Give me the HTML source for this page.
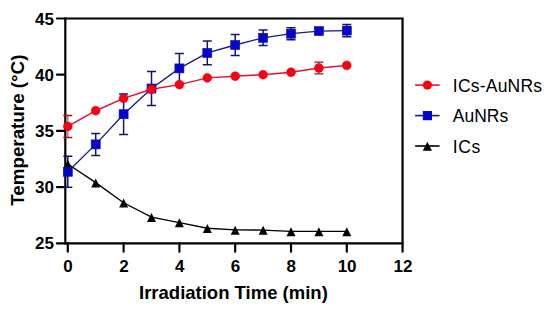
<!DOCTYPE html><html><head><meta charset="utf-8"><style>html,body{margin:0;padding:0;background:#fff;}svg{display:block;}text{font-family:"Liberation Sans",sans-serif;}</style></head><body>
<svg width="550" height="312" viewBox="0 0 550 312">
<rect width="550" height="312" fill="#fff"/>
<g stroke="#000" stroke-width="2.2" fill="none" stroke-linecap="butt">
<path d="M57 18.5 H402.55 V251.7" stroke-linecap="round" stroke-linejoin="miter"/>
<path d="M65.3 17.4 V244.5"/>
<path d="M57 243.4 H402.55" stroke-linecap="round"/>
<path d="M57 74.72 H65" stroke-linecap="round"/>
<path d="M57 130.95 H65" stroke-linecap="round"/>
<path d="M57 187.17 H65" stroke-linecap="round"/>
<path d="M67.80 243.4 V251.7" stroke-linecap="round"/>
<path d="M123.60 243.4 V251.7" stroke-linecap="round"/>
<path d="M179.40 243.4 V251.7" stroke-linecap="round"/>
<path d="M235.20 243.4 V251.7" stroke-linecap="round"/>
<path d="M291.00 243.4 V251.7" stroke-linecap="round"/>
<path d="M346.80 243.4 V251.7" stroke-linecap="round"/>
</g>
<g font-weight="bold" font-size="17" fill="#000">
<text x="54" y="24.50" text-anchor="end">45</text>
<text x="54" y="80.72" text-anchor="end">40</text>
<text x="54" y="136.95" text-anchor="end">35</text>
<text x="54" y="193.17" text-anchor="end">30</text>
<text x="54" y="249.40" text-anchor="end">25</text>
<text x="68.10" y="271.6" text-anchor="middle">0</text>
<text x="123.90" y="271.6" text-anchor="middle">2</text>
<text x="179.70" y="271.6" text-anchor="middle">4</text>
<text x="235.50" y="271.6" text-anchor="middle">6</text>
<text x="291.30" y="271.6" text-anchor="middle">8</text>
<text x="347.10" y="271.6" text-anchor="middle">10</text>
<text x="402.90" y="271.6" text-anchor="middle">12</text>
</g>
<text x="233.4" y="298.8" text-anchor="middle" font-weight="bold" font-size="18.5">Irradiation Time (min)</text>
<text transform="translate(23.8,130.2) rotate(-90)" text-anchor="middle" font-weight="bold" font-size="18.8">Temperature (°C)</text>
<g stroke="#141470" stroke-width="1.5" fill="none">
<path d="M67.80 156.30 V187.30 M63.30 156.30 H72.30 M63.30 187.30 H72.30"/>
<path d="M95.70 133.40 V155.40 M91.20 133.40 H100.20 M91.20 155.40 H100.20"/>
<path d="M123.60 94.00 V134.40 M119.10 94.00 H128.10 M119.10 134.40 H128.10"/>
<path d="M151.50 71.50 V105.50 M147.00 71.50 H156.00 M147.00 105.50 H156.00"/>
<path d="M179.40 53.60 V83.20 M174.90 53.60 H183.90 M174.90 83.20 H183.90"/>
<path d="M207.30 41.00 V64.80 M202.80 41.00 H211.80 M202.80 64.80 H211.80"/>
<path d="M235.20 34.50 V55.50 M230.70 34.50 H239.70 M230.70 55.50 H239.70"/>
<path d="M263.10 30.10 V45.50 M258.60 30.10 H267.60 M258.60 45.50 H267.60"/>
<path d="M291.00 27.70 V39.70 M286.50 27.70 H295.50 M286.50 39.70 H295.50"/>
<path d="M318.90 28.10 V34.10 M314.40 28.10 H323.40 M314.40 34.10 H323.40"/>
<path d="M346.80 24.40 V36.80 M342.30 24.40 H351.30 M342.30 36.80 H351.30"/>
</g>
<path d="M67.80 115.43 V137.47" stroke="#c07a7a" stroke-width="1.5"/>
<path d="M63.30 115.43 H72.30 M63.30 137.47 H72.30" stroke="#a8101e" stroke-width="1.4"/>
<path d="M318.90 62.13 V73.83" stroke="#c07a7a" stroke-width="1.5"/>
<path d="M314.40 62.13 H323.40 M314.40 73.83 H323.40" stroke="#a8101e" stroke-width="1.4"/>
<polyline points="67.80,164.00 95.70,182.65 123.60,202.75 151.50,217.20 179.40,222.55 207.30,228.25 235.20,229.90 263.10,230.10 291.00,231.40 318.90,231.40 346.80,231.40" fill="none" stroke="#000000" stroke-width="1.35"/>
<polyline points="67.80,171.80 95.70,144.40 123.60,114.20 151.50,88.50 179.40,68.40 207.30,52.90 235.20,45.00 263.10,37.80 291.00,33.70 318.90,31.10 346.80,30.60" fill="none" stroke="#141c8c" stroke-width="1.35"/>
<polyline points="67.80,126.45 95.70,110.71 123.60,98.34 151.50,89.34 179.40,84.62 207.30,77.87 235.20,76.19 263.10,74.72 291.00,72.25 318.90,67.98 346.80,65.39" fill="none" stroke="#e8102e" stroke-width="1.5"/>
<path d="M67.80 159.77 L72.30 168.77 L63.30 168.77 Z" fill="#000"/>
<path d="M95.70 178.42 L100.20 187.42 L91.20 187.42 Z" fill="#000"/>
<path d="M123.60 198.52 L128.10 207.52 L119.10 207.52 Z" fill="#000"/>
<path d="M151.50 212.97 L156.00 221.97 L147.00 221.97 Z" fill="#000"/>
<path d="M179.40 218.32 L183.90 227.32 L174.90 227.32 Z" fill="#000"/>
<path d="M207.30 224.02 L211.80 233.02 L202.80 233.02 Z" fill="#000"/>
<path d="M235.20 225.67 L239.70 234.67 L230.70 234.67 Z" fill="#000"/>
<path d="M263.10 225.87 L267.60 234.87 L258.60 234.87 Z" fill="#000"/>
<path d="M291.00 227.17 L295.50 236.17 L286.50 236.17 Z" fill="#000"/>
<path d="M318.90 227.17 L323.40 236.17 L314.40 236.17 Z" fill="#000"/>
<path d="M346.80 227.17 L351.30 236.17 L342.30 236.17 Z" fill="#000"/>
<rect x="63.30" y="167.30" width="9" height="9" fill="#0505cc" stroke="#10109a" stroke-width="0.6"/>
<rect x="91.20" y="139.90" width="9" height="9" fill="#0505cc" stroke="#10109a" stroke-width="0.6"/>
<rect x="119.10" y="109.70" width="9" height="9" fill="#0505cc" stroke="#10109a" stroke-width="0.6"/>
<rect x="147.00" y="84.00" width="9" height="9" fill="#0505cc" stroke="#10109a" stroke-width="0.6"/>
<rect x="174.90" y="63.90" width="9" height="9" fill="#0505cc" stroke="#10109a" stroke-width="0.6"/>
<rect x="202.80" y="48.40" width="9" height="9" fill="#0505cc" stroke="#10109a" stroke-width="0.6"/>
<rect x="230.70" y="40.50" width="9" height="9" fill="#0505cc" stroke="#10109a" stroke-width="0.6"/>
<rect x="258.60" y="33.30" width="9" height="9" fill="#0505cc" stroke="#10109a" stroke-width="0.6"/>
<rect x="286.50" y="29.20" width="9" height="9" fill="#0505cc" stroke="#10109a" stroke-width="0.6"/>
<rect x="314.40" y="26.60" width="9" height="9" fill="#0505cc" stroke="#10109a" stroke-width="0.6"/>
<rect x="342.30" y="26.10" width="9" height="9" fill="#0505cc" stroke="#10109a" stroke-width="0.6"/>
<circle cx="67.80" cy="126.45" r="4.45" fill="#fa0010" stroke="#d8001a" stroke-width="0.5"/>
<circle cx="95.70" cy="110.71" r="4.45" fill="#fa0010" stroke="#d8001a" stroke-width="0.5"/>
<circle cx="123.60" cy="98.34" r="4.45" fill="#fa0010" stroke="#d8001a" stroke-width="0.5"/>
<circle cx="151.50" cy="89.34" r="4.45" fill="#fa0010" stroke="#d8001a" stroke-width="0.5"/>
<circle cx="179.40" cy="84.62" r="4.45" fill="#fa0010" stroke="#d8001a" stroke-width="0.5"/>
<circle cx="207.30" cy="77.87" r="4.45" fill="#fa0010" stroke="#d8001a" stroke-width="0.5"/>
<circle cx="235.20" cy="76.19" r="4.45" fill="#fa0010" stroke="#d8001a" stroke-width="0.5"/>
<circle cx="263.10" cy="74.72" r="4.45" fill="#fa0010" stroke="#d8001a" stroke-width="0.5"/>
<circle cx="291.00" cy="72.25" r="4.45" fill="#fa0010" stroke="#d8001a" stroke-width="0.5"/>
<circle cx="318.90" cy="67.98" r="4.45" fill="#fa0010" stroke="#d8001a" stroke-width="0.5"/>
<circle cx="346.80" cy="65.39" r="4.45" fill="#fa0010" stroke="#d8001a" stroke-width="0.5"/>
<path d="M415.1 85.1 H439.6" stroke="#e8102e" stroke-width="1.6"/>
<circle cx="427.4" cy="85.1" r="4.6" fill="#fa0010"/>
<path d="M415.1 115.6 H439.6" stroke="#141c8c" stroke-width="1.6"/>
<rect x="422.79999999999995" y="111.0" width="9.2" height="9.2" fill="#0505cc"/>
<path d="M415.1 146.0 H439.6" stroke="#000000" stroke-width="1.6"/>
<path d="M427.40 141.72 L432.00 150.82 L422.80 150.82 Z" fill="#000"/>
<g font-size="17.5" fill="#000">
<text x="452.8" y="91.8" letter-spacing="0.22">ICs-AuNRs</text>
<text x="452.8" y="122.2" letter-spacing="0">AuNRs</text>
<text x="452.8" y="152.9" letter-spacing="0.6">ICs</text>
</g>
</svg></body></html>
